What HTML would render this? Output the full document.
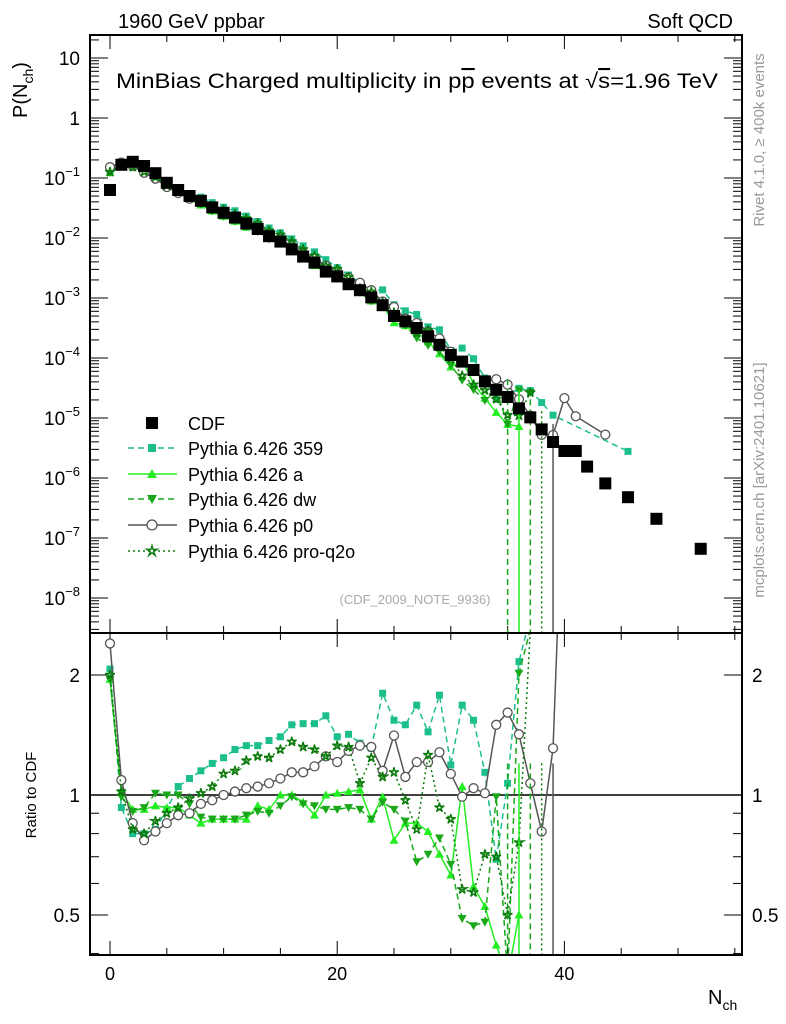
<!DOCTYPE html>
<html><head><meta charset="utf-8"><style>
html,body{margin:0;padding:0;background:#fff;}
svg{display:block;font-family:"Liberation Sans",sans-serif;}
</style></head><body>
<svg id="chart" width="786" height="1024" viewBox="0 0 786 1024" xmlns="http://www.w3.org/2000/svg">
<defs>
<clipPath id="clipTop"><rect x="90" y="35" width="652" height="598"/></clipPath>
<clipPath id="clipBot"><rect x="90" y="633" width="652" height="322"/></clipPath>
</defs>
<text x="118" y="28" font-size="20">1960 GeV ppbar</text>
<text x="733" y="28" font-size="20" text-anchor="end">Soft QCD</text>
<text x="116" y="88" font-size="21" textLength="602" lengthAdjust="spacingAndGlyphs">MinBias Charged multiplicity in p<tspan text-decoration="overline">p</tspan> events at √<tspan text-decoration="overline">s</tspan>=1.96 TeV</text>
<text transform="translate(764,140) rotate(-90)" font-size="15" fill="#999" text-anchor="middle">Rivet 4.1.0, ≥ 400k events</text>
<text transform="translate(764,480) rotate(-90)" font-size="15" fill="#999" text-anchor="middle">mcplots.cern.ch [arXiv:2401.10621]</text>
<text x="415" y="604" font-size="13" fill="#aaa" text-anchor="middle">(CDF_2009_NOTE_9936)</text>
<text transform="translate(27,90) rotate(-90)" font-size="20" text-anchor="middle">P(N<tspan font-size="14" dy="6">ch</tspan><tspan dy="-6">)</tspan></text>
<text transform="translate(36,795) rotate(-90)" font-size="15" text-anchor="middle">Ratio to CDF</text>
<text x="708" y="1004" font-size="20">N<tspan font-size="14" dy="6">ch</tspan></text>
<g id="axes"></g>
<g id="topPanel" clip-path="url(#clipTop)"></g>
<g id="botPanel" clip-path="url(#clipBot)"></g>
<g id="legend"></g>
<rect x="90" y="35" width="652" height="598" fill="none" stroke="#000" stroke-width="2"/>
<rect x="90" y="633" width="652" height="322" fill="none" stroke="#000" stroke-width="2"/>
</svg>
<script>
const nch = [0,1,2,3,4,5,6,7,8,9,10,11,12,13,14,15,16,17,18,19,20,21,22,23,24,25,26,27,28,29,30,31,32,33,34,35,36,37,38,39,40,41,42,43.6,45.6,48.1,52];
const cdfLog = [-1.2,-0.78,-0.73,-0.8,-0.92,-1.08,-1.2,-1.3,-1.38,-1.49,-1.58,-1.66,-1.76,-1.85,-1.97,-2.06,-2.19,-2.31,-2.41,-2.56,-2.64,-2.77,-2.87,-2.99,-3.12,-3.3,-3.39,-3.5,-3.64,-3.78,-3.95,-4.06,-4.2,-4.39,-4.53,-4.65,-4.84,-4.99,-5.19,-5.4,-5.55,-5.55,-5.81,-6.09,-6.32,-6.68,-7.18];
const r359 = [2.07,0.93,0.80,0.80,0.82,0.92,1.05,1.10,1.15,1.20,1.24,1.30,1.33,1.33,1.37,1.40,1.50,1.51,1.51,1.58,1.40,1.42,1.35,1.31,1.80,1.54,1.50,1.68,1.44,1.78,1.19,1.68,1.54,1.14,0.69,1.07,2.16,2.8,2.8,2.8,null,null,null,null,5.8,null,null];
const rA = [1.95,1.02,0.92,0.92,0.94,0.93,0.93,0.89,0.85,0.87,0.87,0.87,0.87,0.94,0.92,1.0,1.0,0.96,0.89,1.0,1.01,1.02,1.03,0.87,0.99,0.77,0.85,0.85,0.81,0.71,0.63,1.05,0.59,0.525,0.42,0.35,0.5,null,null,null,null,null,null,null,null,null,null];
const rDW = [1.95,0.99,0.91,0.93,1.01,1.0,1.0,0.95,0.88,0.87,0.87,0.87,0.89,0.91,0.90,0.94,0.99,0.95,0.94,0.92,0.92,0.93,0.92,0.87,0.96,0.92,0.86,0.68,0.71,0.78,0.67,0.49,0.47,0.48,0.99,0.35,2.02,2.6,null,null,null,null,null,null,null,null,null];
const rP0 = [2.4,1.09,0.85,0.77,0.81,0.85,0.89,0.90,0.95,0.97,1.0,1.02,1.04,1.05,1.07,1.10,1.14,1.14,1.18,1.25,1.21,1.29,1.33,1.32,1.15,1.41,1.11,1.21,1.21,1.28,1.13,0.99,1.04,1.01,1.50,1.61,1.42,1.07,0.81,1.31,7.6,3.8,null,6.5,null,null,null];
const rQ2O = [2.0,1.02,0.82,0.80,0.86,0.90,0.93,0.98,1.01,1.05,1.13,1.15,1.22,1.25,1.24,1.30,1.36,1.32,1.30,1.25,1.33,1.32,1.07,1.24,1.11,1.14,0.97,0.82,1.26,0.93,0.87,0.58,0.57,0.71,0.70,0.50,0.76,2.6,null,null,null,null,null,null,null,null,null];
const seriesNames = ["Pythia 6.426 359","Pythia 6.426 a","Pythia 6.426 dw","Pythia 6.426 p0","Pythia 6.426 pro-q2o"];
const dropBins = [[2,35],[1,36],[2,37],[4,38],[3,39]];
const xTicks = [0,20,40];
const topTickExps = [1,0,-1,-2,-3,-4,-5,-6,-7,-8];
const ratioTicks = [2,1,0.5];
const ratioTickLabels = ["2","1","0.5"];

const NS="http://www.w3.org/2000/svg";
const X = n => 110 + 11.36*n;
const YT = lg => 118 - 60*lg;
const YR = r => 795 - 120*Math.log2(r);
function mk(tag, attrs, parent){const e=document.createElementNS(NS,tag);for(const k in attrs)e.setAttribute(k,attrs[k]);parent.appendChild(e);return e;}
const axesG=document.getElementById('axes'), topG=document.getElementById('topPanel'), botG=document.getElementById('botPanel'), legG=document.getElementById('legend');

for(let v=-5; v<=60; v+=5){
  const x=X(v); if(x<91||x>741) continue;
  const major = v%20===0;
  const len = major?14:7;
  for(const [y0,dir] of [[955,-1],[633,-1],[35,1],[633,1]]){
    const t=mk('line',{x1:x,x2:x,y1:y0,y2:y0+dir*len,stroke:'#000','stroke-width':1},axesG);
    
    
  }
}
xTicks.forEach(v=>{
  const t=mk('text',{x:X(v),y:980,'font-size':18,'text-anchor':'middle'},axesG);t.textContent=v;
  
  
});
for(let e=-9;e<=1;e++){
  for(let m=1;m<=9;m++){
    const y=YT(e+Math.log10(m)); if(y<36||y>632) continue;
    const len=m===1?18:9;
    for(const [x0,dir] of [[90,1],[742,-1]]){
      const t=mk('line',{x1:x0,x2:x0+dir*len,y1:y,y2:y,stroke:'#000','stroke-width':1},axesG);
      
      
    }
  }
}
topTickExps.forEach(e=>{
  const y=YT(e);
  const t=mk('text',{x:80,y:y+7,'font-size':19,'text-anchor':'end'},axesG);
  if(e===1) t.textContent='10'; else if(e===0) t.textContent='1';
  else { t.textContent='10'; const s=mk('tspan',{dy:-9,'font-size':13},t); s.textContent=String(e).replace('-','−'); }
  
  
});
[0.4,0.5,0.6,0.7,0.8,0.9,1,2].forEach(r=>{
  const y=YR(r); const len=(r===1||r===2||r===0.5)?18:9;
  for(const [x0,dir] of [[90,1],[742,-1]]){
    const t=mk('line',{x1:x0,x2:x0+dir*len,y1:y,y2:y,stroke:'#000','stroke-width':1},axesG);
    
    
  }
});
ratioTicks.forEach((r,i)=>{
  for(const [x,anc] of [[80,'end'],[752,'start']]){
    const t=mk('text',{x:x,y:YR(r)+7,'font-size':19,'text-anchor':anc},axesG);t.textContent=ratioTickLabels[i];
    
    
  }
});
const one=mk('line',{x1:90,x2:742,y1:YR(1),y2:YR(1),stroke:'#000','stroke-width':1.5},botG);



const styles=[
 {c:'#1cbf8c',dash:'6,4',m:'sq'},
 {c:'#22ee22',dash:'',m:'tu'},
 {c:'#1aa81a',dash:'6,4',m:'td'},
 {c:'#555',dash:'',m:'ci'},
 {c:'#0b7a0b',dash:'2,3',m:'st'}
];
const ratios=[r359,rA,rDW,rP0,rQ2O];
function marker(g,type,x,y,c,s){
  let e;
  if(type==='sq') e=mk('rect',{x:x-s,y:y-s,width:2*s,height:2*s,fill:c},g);
  else if(type==='tu') e=mk('polygon',{points:`${x},${y-s-1} ${x-s-1},${y+s} ${x+s+1},${y+s}`,fill:c},g);
  else if(type==='td') e=mk('polygon',{points:`${x},${y+s+1} ${x-s-1},${y-s} ${x+s+1},${y-s}`,fill:c},g);
  else if(type==='ci') e=mk('circle',{cx:x,cy:y,r:s+1,fill:'#fff',stroke:c,'stroke-width':1.3},g);
  else { let p=[];for(let i=0;i<10;i++){const a=-Math.PI/2+i*Math.PI/5,rr=i%2?s*0.45:s+1.5;p.push((x+rr*Math.cos(a)).toFixed(1)+','+(y+rr*Math.sin(a)).toFixed(1));}
    e=mk('polygon',{points:p.join(' '),fill:'none',stroke:c,'stroke-width':1.4},g);}
  return e;
}
ratios.forEach((rs,si)=>{
  const st=styles[si];
  const gT=mk('g',{},topG);
  
  
  const gB=mk('g',{},botG);
  
  
  const ptsT=[],ptsB=[];
  rs.forEach((r,i)=>{ if(r==null) return;
    ptsT.push([X(nch[i]),YT(cdfLog[i]+Math.log10(r))]);
    ptsB.push([X(nch[i]),YR(r)]);
  });
  const pl=mk('polyline',{points:ptsT.map(p=>p.join(',')).join(' '),fill:'none',stroke:st.c,'stroke-width':1.5,'stroke-dasharray':st.dash},gT);
  
  
  const pb=mk('polyline',{points:ptsB.map(p=>p.join(',')).join(' '),fill:'none',stroke:st.c,'stroke-width':1.5,'stroke-dasharray':st.dash},gB);
  
  
  ptsT.forEach(p=>{const m=marker(gT,st.m,p[0],p[1],st.c,3.5);
    
    });
  ptsB.forEach(p=>{const m=marker(gB,st.m,p[0],p[1],st.c,3.5);
    
    });
});
dropBins.forEach(([si,n])=>{
  const i=nch.indexOf(n); const st=styles[si];
  const l=mk('line',{x1:X(n),x2:X(n),y1:YT(cdfLog[i]+0.3),y2:640,stroke:st.c,'stroke-width':1.5,'stroke-dasharray':st.dash},topG);
  
  
  const l2=mk('line',{x1:X(n),x2:X(n),y1:YR(1.2),y2:960,stroke:st.c,'stroke-width':1.5,'stroke-dasharray':st.dash},botG);
  
  
});
const gC=mk('g',{},topG);


cdfLog.forEach((lg,i)=>{
  const r=mk('rect',{x:X(nch[i])-6,y:YT(lg)-6,width:12,height:12,fill:'#000'},gC);
  
  
});
const rows=[423,448,474,499,525,551];
const lr=mk('rect',{x:146,y:rows[0]-6,width:12,height:12,fill:'#000'},legG);


const lt=mk('text',{x:188,y:rows[0]+7,'font-size':18},legG); lt.textContent='CDF';


seriesNames.forEach((nm,i)=>{
  const st=styles[i], y=rows[i+1];
  const l=mk('line',{x1:128,x2:177,y1:y,y2:y,stroke:st.c,'stroke-width':1.5,'stroke-dasharray':st.dash},legG);
  
  
  const m=marker(legG,st.m,152,y,st.c,4);
  
  
  const t=mk('text',{x:188,y:y+7,'font-size':18},legG); t.textContent=nm;
  
  
});
</script>
</body></html>
